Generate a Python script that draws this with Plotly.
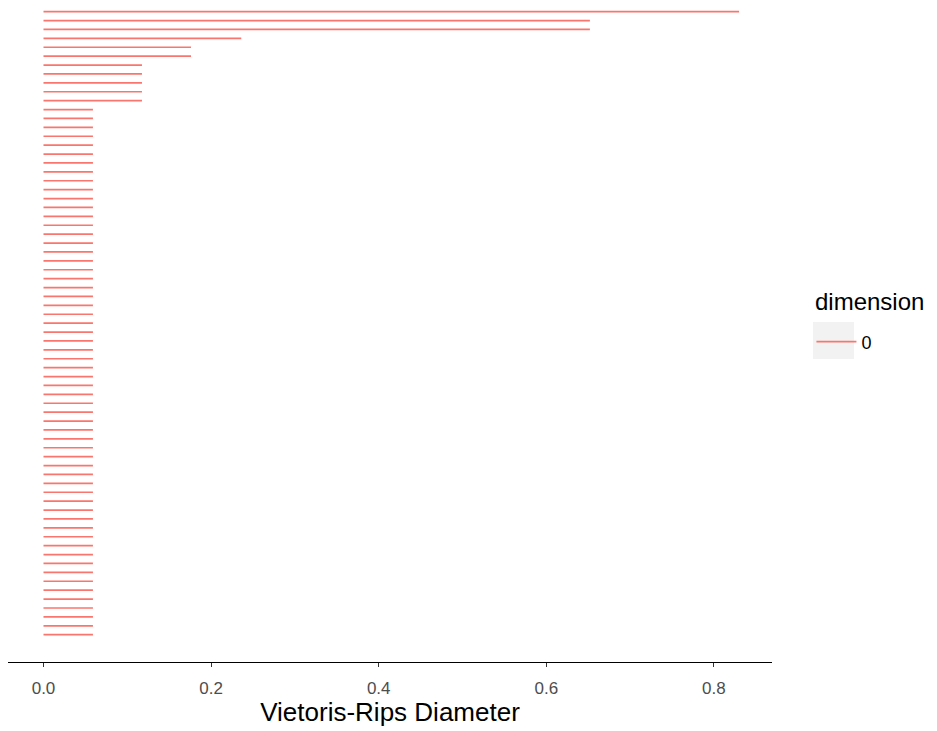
import plotly.graph_objects as go

# Persistence intervals (dimension 0), listed from the longest bar at the top
births = [0.0] * 71
deaths = ([0.830, 0.652, 0.652, 0.236, 0.176, 0.176]
          + [0.1175] * 5
          + [0.059] * 60)
dimension_label = "0"
legend_title = "dimension"
x_ticks = [0.0, 0.2, 0.4, 0.6, 0.8]
x_tick_text = ["0.0", "0.2", "0.4", "0.6", "0.8"]

n = len(deaths)
xs, ys = [], []
for i, (b, d) in enumerate(zip(births, deaths)):
    level = n - 1 - i
    xs += [b, d, None]
    ys += [level, level, None]

RED = "#F8766D"

fig = go.Figure()
fig.add_trace(go.Scatter(
    x=xs, y=ys, mode="lines",
    line=dict(color=RED, width=1.7),
    name=dimension_label, showlegend=True,
    hoverinfo="skip",
))

# grey key background behind the legend line
fig.add_shape(type="rect", xref="paper", yref="paper",
              x0=1.0537, x1=1.1073, y0=0.4577, y1=0.5136,
              fillcolor="#F2F2F2", line=dict(width=0), layer="below")

# legend heading
fig.add_annotation(text=legend_title, xref="paper", yref="paper",
                   x=1.0537, y=0.5453, xanchor="left", yanchor="middle",
                   showarrow=False, font=dict(size=24, color="#000000"))

fig.update_layout(
    width=937, height=731,
    margin=dict(l=8, r=165, t=0, b=69),
    paper_bgcolor="white", plot_bgcolor="white",
    font=dict(family="Liberation Sans, Arial, sans-serif", color="#000000"),
    showlegend=True,
    legend=dict(
        font=dict(size=18, color="#000000"),
        x=1.0516, y=0.4834, xanchor="left", yanchor="middle",
        bgcolor="rgba(0,0,0,0)",
        itemwidth=40,
    ),
    xaxis=dict(
        range=[-0.04236, 0.8693],
        tickvals=x_ticks, ticktext=x_tick_text,
        tickfont=dict(size=17, color="#4D4D4D"),
        ticks="outside", ticklen=4, tickcolor="#333333", tickwidth=1,
        ticklabelstandoff=6,
        showline=True, linecolor="#000000", linewidth=1.2,
        showgrid=False, zeroline=False,
        title=dict(text="Vietoris-Rips Diameter",
                   font=dict(size=26, color="#000000"), standoff=2),
    ),
    yaxis=dict(
        range=[-3.07, 71.31],
        showticklabels=False, ticks="", showline=False,
        showgrid=False, zeroline=False,
    ),
)

fig.write_html("out.html")
